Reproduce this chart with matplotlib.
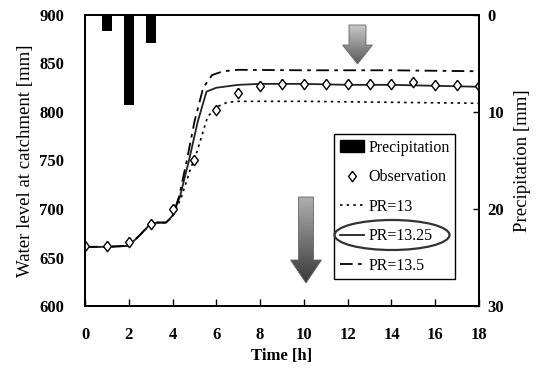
import numpy as np
import matplotlib
matplotlib.use("Agg")
import matplotlib.pyplot as plt
from matplotlib.patches import Polygon, Ellipse, Patch
from matplotlib.lines import Line2D
from matplotlib.colors import LinearSegmentedColormap

plt.rcParams["font.family"] = ["Liberation Serif", "DejaVu Serif"]

# Observed water level [mm]
obs_t = [0, 1, 2, 3, 4, 5, 6, 7, 8, 9, 10, 11, 12, 13, 14, 15, 16, 17, 18]
obs_wl = [662, 662, 666, 685, 700, 751, 802, 820, 827, 829, 829, 829, 829, 829, 829, 831, 828, 828, 827]

# Simulated water level for three PR values
pr13_t = [0, 1, 2, 2.5, 3, 3.3, 3.7, 4, 4.4, 4.8, 5.1, 5.6, 6.0, 6.5, 7, 10, 14, 18]
pr13_wl = [661, 661, 662, 673, 684, 686, 686, 692, 712, 740, 758, 795, 805, 810, 811, 811, 810, 809]

pr1325_t = [0, 1, 2, 2.5, 3, 3.3, 3.7, 4, 4.34, 4.75, 5.15, 5.55, 6, 7, 8, 10, 12, 14, 16, 18]
pr1325_wl = [661, 661, 662, 673, 685, 686, 686, 693, 713, 750, 790, 821, 825, 828, 829, 829, 828, 828, 827, 826]

pr135_t = [0, 1, 2, 2.5, 3, 3.3, 3.7, 4, 4.3, 4.65, 5.0, 5.4, 5.8, 6.3, 7, 10, 14, 18]
pr135_wl = [661, 661, 662, 673, 685, 686, 686, 693, 713, 750, 790, 825, 838, 842, 843.5, 843, 843, 842]

# Precipitation [mm]
rain_t = [1, 2, 3]
rain_mm = [1.6, 9.3, 2.85]

# diamond a bit taller than wide
diamond = [(0, 1), (0.75, 0), (0, -1), (-0.75, 0), (0, 1)]

fig = plt.figure(figsize=(5.46, 3.68), dpi=100)
L, R, T, B = 85, 479, 15, 306
ax = fig.add_axes([L / 546, 1 - B / 368, (R - L) / 546, (B - T) / 368])

ax.plot(pr13_t, pr13_wl, color="black", lw=1.2, ls=(0, (1.5, 2.5)))
ax.plot(pr1325_t, pr1325_wl, color="#222222", lw=1.3, ls="-")
ax.plot(pr135_t, pr135_wl, color="black", lw=1.3, ls=(0, (7, 3, 2, 3)))
ax.plot(obs_t, obs_wl, ls="none", marker=diamond, ms=7.5, mfc="white", mec="black", mew=1.0, zorder=5)


def px2ax(px, py):
    return ((px - L) / (R - L), (B - py) / (B - T))


def grad_arrow(ax, cx, ytop, yhead, ytip, sw, hw, c_top, c_bot):
    pts = [(cx - sw, ytop), (cx + sw, ytop), (cx + sw, yhead), (cx + hw, yhead),
           (cx, ytip), (cx - hw, yhead), (cx - sw, yhead)]
    verts = [px2ax(x, y) for x, y in pts]
    poly = Polygon(verts, closed=True, transform=ax.transAxes, facecolor="none",
                   edgecolor="#666666", lw=0.6, zorder=4)
    ax.add_patch(poly)
    cmap = LinearSegmentedColormap.from_list("g", [c_top, c_bot])
    grad = np.linspace(0, 1, 100).reshape(-1, 1)
    x0, y0 = px2ax(cx - hw, ytip)
    x1, y1 = px2ax(cx + hw, ytop)
    im = ax.imshow(grad, cmap=cmap, extent=[x0, x1, y0, y1], transform=ax.transAxes,
                   aspect="auto", origin="upper", zorder=3)
    im.set_clip_path(poly)


grad_arrow(ax, 357.5, 25, 45, 64, 8.5, 15, "#c8c8c8", "#5a5a5a")
grad_arrow(ax, 306, 197, 260, 283, 7.5, 15.5, "#b0b0b0", "#3a3a3a")

ax.set_xlim(0, 18)
ax.set_ylim(600, 900)
ax.set_xticks(range(0, 19, 2))
ax.set_yticks(range(600, 901, 50))
ax.tick_params(axis="x", direction="in", length=5, width=1, pad=15, labelsize=12)
ax.tick_params(axis="y", length=0, pad=15, labelsize=12)
for lab in ax.get_xticklabels() + ax.get_yticklabels():
    lab.set_fontweight("bold")
ax.set_xlabel("Time [h]", fontsize=12, fontweight="bold", labelpad=4)
ax.set_ylabel("Water level at catchment [mm]", fontsize=13.5, labelpad=4)

ax2 = ax.twinx()
ax2.bar(rain_t, rain_mm, width=0.46, color="black")
ax2.set_ylim(30, 0)
ax2.set_yticks([0, 10, 20, 30])
ax2.tick_params(axis="y", direction="in", length=4, width=1, pad=6, labelsize=12)
for lab in ax2.get_yticklabels():
    lab.set_fontweight("bold")
ax2.set_ylabel("Precipitation [mm]", fontsize=13.5, labelpad=7)

for a in (ax, ax2):
    for s in a.spines.values():
        s.set_linewidth(1.3)
        s.set_color("black")

handles = [
    Patch(facecolor="black", edgecolor="black"),
    Line2D([], [], ls="none", marker=diamond, ms=7.5, mfc="white", mec="black", mew=1.0),
    Line2D([], [], color="black", lw=1.2, ls=(0, (1.5, 2.5))),
    Line2D([], [], color="#222222", lw=1.3),
    Line2D([], [], color="black", lw=1.3, ls=(0, (7, 3, 2, 3))),
]
labels = ["Precipitation", "Observation", "PR=13", "PR=13.25", "PR=13.5"]
leg = ax2.legend(handles, labels, loc="upper left", bbox_to_anchor=px2ax(334, 134),
                 borderaxespad=0, fontsize=11.5, frameon=True, fancybox=False,
                 edgecolor="black", framealpha=1, handlelength=1.5, handletextpad=0.3,
                 labelspacing=0.85, borderpad=0.35)
leg.get_frame().set_linewidth(1.0)

ex, ey = px2ax(392, 235)
ax2.add_patch(Ellipse((ex, ey), 115 / (R - L), 30 / (B - T), transform=ax2.transAxes,
                      facecolor="none", edgecolor="#333333", lw=1.6, zorder=10))

fig.savefig("out.png", dpi=100)
